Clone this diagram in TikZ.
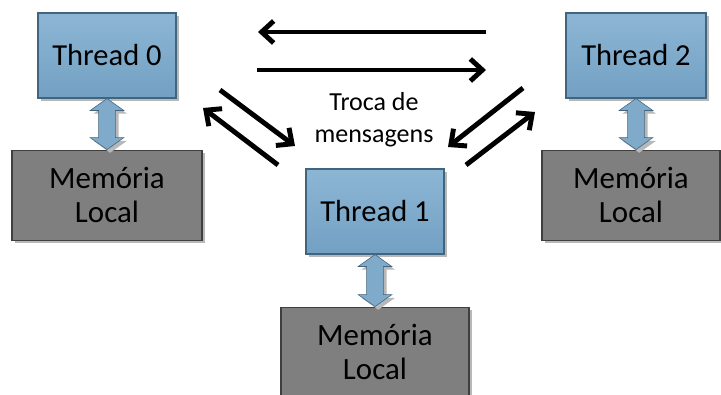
\documentclass[tikz,border=0pt]{standalone}
\usepackage{fontspec}
\setmainfont{Carlito}
\usetikzlibrary{%
    positioning,calc,shadows,%
    arrows.meta
}
\definecolor{threadtop}{HTML}{8DB6D4}
\definecolor{threadbot}{HTML}{72A0C3}
\definecolor{threadline}{HTML}{41657F}
\definecolor{memfill}{HTML}{7F7F7F}
\definecolor{memline}{HTML}{3F3F3F}

% seta dupla entre thread e memoria
\newcommand\linkarrow[2]{%
    \draw[link] let \p1=(#1.south), \p2=(#2.north) in
        (\x1,\y1) -- (\x1+12pt,\y1-8.5pt) -- (\x1+6pt,\y1-8.5pt)
        -- (\x1+6pt,\y2+8.5pt) -- (\x1+12pt,\y2+8.5pt) -- (\x1,\y2)
        -- (\x1-12pt,\y2+8.5pt) -- (\x1-6pt,\y2+8.5pt)
        -- (\x1-6pt,\y1-8.5pt) -- (\x1-12pt,\y1-8.5pt) -- cycle;}

\begin{document}
\begin{tikzpicture}[ thread/.style={draw=threadline,thick,
        top color=threadtop,bottom color=threadbot,
        minimum width=3.45cm,minimum height=2.125cm,
        font={\fontsize{21.7}{26}\selectfont},
        drop shadow={shadow xshift=0.08cm,shadow yshift=-0.08cm,
                     fill=black!28,opacity=1}},
    memoria/.style={draw=memline,thick,fill=memfill,
        minimum width=4.75cm,minimum height=2.25cm,align=center,
        font={\fontsize{22}{24}\selectfont},
        drop shadow={shadow xshift=0.08cm,shadow yshift=-0.08cm,
                     fill=black!28,opacity=1}},
    link/.style={draw=threadline,fill=threadbot!90!white,
        line join=miter,
        drop shadow={shadow xshift=0.08cm,shadow yshift=-0.08cm,
                     fill=black!28,opacity=1}},
    msg/.style={line width=3.5pt,
        -{Straight Barb[length=0.3cm,width=0.55cm]}}]
\useasboundingbox (0,0) rectangle (18.025,9.85);

\node[thread] (t0) at (2.675,8.4625) {Thread 0};
\node[thread] (t1) at (9.375,4.5625) {Thread 1};
\node[thread,minimum width=3.5cm] (t2) at (15.9,8.4625) {Thread 2};

\node[memoria,below=1.275cm of t0] (m0) {Memória\\Local};
\node[memoria,below=1.3cm of t1,minimum width=4.7cm] (m1) {Memória\\Local};
\node[memoria,below=1.275cm of t2,xshift=-0.125cm,minimum width=4.45cm]
    (m2) {Memória\\Local};

\linkarrow{t0}{m0}
\linkarrow{t1}{m1}
\linkarrow{t2}{m2}

% troca de mensagens
\node[align=center,font={\fontsize{18.5}{22.5}\selectfont}] (troca)
    at (9.35,6.85) {Troca de\\mensagens};
\coordinate (a1) at (12.15,9.05);  \coordinate (b1) at (6.45,9.05);
\coordinate (a2) at (6.425,8.1);   \coordinate (b2) at (12.15,8.1);
\coordinate (a3) at (5.5,7.6);     \coordinate (b3) at (7.375,6.2);
\coordinate (a4) at (6.95,5.725);  \coordinate (b4) at (5.075,7.15);
\coordinate (a5) at (13.075,7.65); \coordinate (b5) at (11.2,6.175);
\coordinate (a6) at (11.65,5.725); \coordinate (b6) at (13.375,7.05);
\foreach \i in {1,...,6}
    \draw[msg] (a\i) -- (b\i);
\end{tikzpicture}
\end{document}
